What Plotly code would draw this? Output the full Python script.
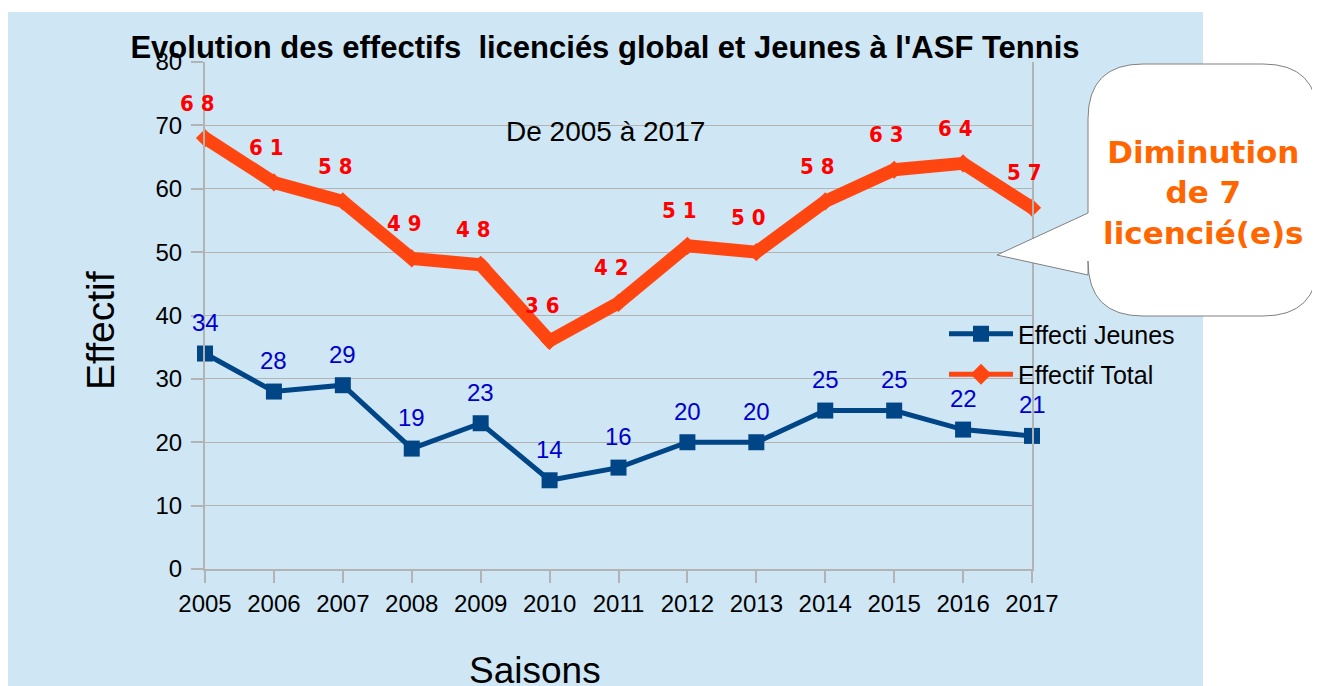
import plotly.graph_objects as go

saisons = [2005, 2006, 2007, 2008, 2009, 2010, 2011, 2012, 2013, 2014, 2015, 2016, 2017]
effectif_jeunes = [34, 28, 29, 19, 23, 14, 16, 20, 20, 25, 25, 22, 21]
effectif_total = [68, 61, 58, 49, 48, 36, 42, 51, 50, 58, 63, 64, 57]
y_ticks = [0, 10, 20, 30, 40, 50, 60, 70, 80]

OFF = 8  # page body margin
W, H = 1320 - OFF, 686 - OFF
# plot area in page pixels
PL, PR, PT, PB = 205, 1032, 62, 569
L, R, T, B = PL - OFF, PR - OFF, PT - OFF, PB - OFF


def px(x):
    """page pixel x -> paper coordinate"""
    return (x - PL) / (PR - PL)


def py(y):
    """page pixel y -> paper coordinate"""
    return (PB - y) / (PB - PT)


BG = "#cfe6f4"
ORANGE = "#ff4611"
NAVY = "#004586"
SANS = "Liberation Sans, Arial, sans-serif"

fig = go.Figure()

fig.add_trace(go.Scatter(
    x=saisons, y=effectif_jeunes, name="Effecti Jeunes", legendgroup="a",
    mode="lines+markers",
    line=dict(color=NAVY, width=5),
    marker=dict(symbol="square", size=16, color=NAVY),
    cliponaxis=False,
))
fig.add_trace(go.Scatter(
    x=saisons, y=effectif_total, name="Effectif Total", legendgroup="b",
    mode="lines+markers", showlegend=False,
    line=dict(color=ORANGE, width=13),
    marker=dict(symbol="diamond", size=14, color=ORANGE),
    cliponaxis=False,
))
# legend entry for the total series (thinner line, as in the original legend)
fig.add_trace(go.Scatter(
    x=[None], y=[None], name="Effectif Total", legendgroup="b",
    mode="lines+markers",
    line=dict(color=ORANGE, width=5),
    marker=dict(symbol="diamond", size=16, color=ORANGE),
))

annotations = []
for s, v in zip(saisons, effectif_jeunes):
    annotations.append(dict(
        x=s, y=v, xref="x", yref="y", text=str(v), showarrow=False,
        yshift=31, font=dict(family=SANS, size=24, color="#0000cc"),
    ))
for s, v in zip(saisons, effectif_total):
    annotations.append(dict(
        x=s, y=v, xref="x", yref="y", text=" ".join(str(v)), showarrow=False,
        yshift=35, xshift=-8,
        font=dict(family="DejaVu Sans Condensed, Liberation Sans Narrow, Arial Narrow", size=22,
                  color="#ff0000", weight="bold"),
    ))

# subtitle
annotations.append(dict(
    x=px(605), y=py(131), xref="paper", yref="paper", text="De 2005 à 2017",
    xanchor="center", yanchor="middle",
    showarrow=False, font=dict(family=SANS, size=28, color="#000000"),
))
# axis titles
annotations.append(dict(
    x=px(100), y=py(331), xref="paper", yref="paper", text="Effectif", textangle=-90,
    xanchor="center", yanchor="middle",
    showarrow=False, font=dict(family=SANS, size=39, color="#000000"),
))
annotations.append(dict(
    x=px(535), y=py(670), xref="paper", yref="paper", text="Saisons",
    xanchor="center", yanchor="middle",
    showarrow=False, font=dict(family=SANS, size=37, color="#000000"),
))
# callout text
annotations.append(dict(
    x=px(1203), y=py(192), xref="paper", yref="paper",
    text="Diminution<br>de 7<br>licencié(e)s", showarrow=False,
    xanchor="center", yanchor="middle",
    font=dict(family="DejaVu Sans, Verdana", size=31, color="#ff6600", weight="bold"),
))

# callout bubble path (page pixels -> paper)
bx0, bx1, by0, by1, r = 1088, 1318, 64, 316, 55
tail_top, tail_bot, tip = 213, 275, (997, 255)
path = (
    f"M {px(bx0 + r)},{py(by0)} L {px(bx1 - r)},{py(by0)} "
    f"Q {px(bx1)},{py(by0)} {px(bx1)},{py(by0 + r)} "
    f"L {px(bx1)},{py(by1 - r)} Q {px(bx1)},{py(by1)} {px(bx1 - r)},{py(by1)} "
    f"L {px(bx0 + r)},{py(by1)} Q {px(bx0)},{py(by1)} {px(bx0)},{py(by1 - r)} "
    f"L {px(bx0)},{py(tail_bot)} L {px(tip[0])},{py(tip[1])} L {px(bx0)},{py(tail_top)} "
    f"L {px(bx0)},{py(by0 + r)} Q {px(bx0)},{py(by0)} {px(bx0 + r)},{py(by0)} Z"
)

shapes = [
    dict(type="rect", xref="paper", yref="paper", x0=px(8), x1=px(1203), y0=py(12), y1=py(700),
         fillcolor=BG, line=dict(width=0), layer="below"),
    dict(type="path", xref="paper", yref="paper", path=path, fillcolor="#ffffff",
         line=dict(color="#808080", width=1), layer="above"),
]

fig.update_layout(
    width=W, height=H,
    margin=dict(l=L, r=W - R, t=T, b=H - B, autoexpand=False),
    paper_bgcolor="#ffffff",
    plot_bgcolor="rgba(0,0,0,0)",
    font=dict(family=SANS, color="#000000"),
    title=dict(
        text="<b>Evolution des effectifs  licenciés global et Jeunes à l'ASF Tennis</b>",
        x=(605 - OFF) / W, xanchor="center", y=1 - (47 - OFF) / H, yanchor="middle",
        xref="container", yref="container",
        font=dict(family=SANS, size=31, color="#000000"),
    ),
    xaxis=dict(
        range=[2005, 2017], tickvals=saisons, ticktext=[str(s) for s in saisons],
        showgrid=False, zeroline=False, showline=True, linecolor="#b3b3b3", linewidth=2,
        ticks="outside", ticklen=12, tickcolor="#b3b3b3", tickwidth=2,
        tickfont=dict(size=24), automargin=False,
    ),
    yaxis=dict(
        range=[0, 80], tickvals=y_ticks, showgrid=True, gridcolor="#b3b3b3", gridwidth=1,
        zeroline=False, showline=True, mirror=True, linecolor="#b3b3b3", linewidth=2,
        ticks="outside", ticklen=12, tickcolor="#b3b3b3", tickwidth=2, ticklabelstandoff=4,
        tickfont=dict(size=24), automargin=False,
    ),
    legend=dict(
        x=px(944), y=py(311), xanchor="left", yanchor="top",
        bgcolor="rgba(0,0,0,0)", font=dict(size=25), tracegroupgap=5, itemwidth=64,
    ),
    annotations=annotations,
    shapes=shapes,
    showlegend=True,
)

fig.write_html("out.html")
